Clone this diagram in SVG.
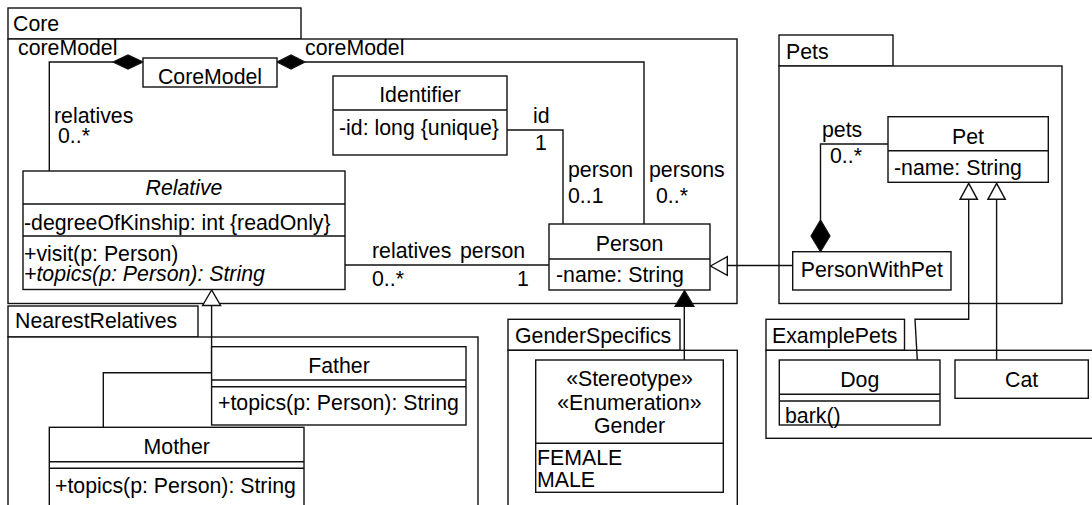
<svg xmlns="http://www.w3.org/2000/svg" width="1092" height="505" viewBox="0 0 1092 505">
  <style>
    .pkg { fill: #fff; stroke: #111; stroke-width: 1.4; }
    .box { fill: #fff; stroke: #111; stroke-width: 1.4; }
    .ln { fill: none; stroke: #111; stroke-width: 1.4; }
    .hollow { fill: #fff; stroke: #111; stroke-width: 1.4; }
    .solid { fill: #000; stroke: #111; stroke-width: 1.2; }
    text { font-family: "Liberation Sans", Arial, Helvetica, sans-serif; font-size: 21.3px; fill: #000; }
    .c { text-anchor: middle; }
    .i { font-style: italic; }
  </style>

  <rect width="1092" height="505" fill="#fff"/>

  <!-- packages -->
  <g id="pkg-core">
    <rect class="pkg" x="8" y="8" width="293" height="31"/>
    <rect class="pkg" x="8" y="39" width="729" height="264.5"/>
    <text x="13" y="31">Core</text>
  </g>
  <g id="pkg-pets">
    <rect class="pkg" x="779" y="35" width="114" height="31"/>
    <rect class="pkg" x="779" y="66" width="283" height="237.5"/>
    <text x="786" y="59">Pets</text>
  </g>
  <g id="pkg-nearest-relatives">
    <rect class="pkg" x="8" y="306" width="190" height="31"/>
    <rect class="pkg" x="8" y="337" width="470" height="200"/>
    <text x="15" y="328">NearestRelatives</text>
  </g>
  <g id="pkg-gender-specifics">
    <rect class="pkg" x="508" y="319.3" width="172" height="31"/>
    <rect class="pkg" x="508" y="350.3" width="229.3" height="200"/>
    <text x="515" y="343">GenderSpecifics</text>
  </g>
  <g id="pkg-example-pets">
    <rect class="pkg" x="766" y="319.3" width="138.5" height="31"/>
    <rect class="pkg" x="766" y="350.3" width="400" height="88"/>
    <text x="772" y="343">ExamplePets</text>
  </g>

  <!-- connectors -->
  <g id="connectors">
    <!-- CoreModel <>- Relative -->
    <path class="ln" d="M49.3,171 V62 H113"/>
    <polygon class="solid" points="113,62 128,55 143,62 128,69"/>
    <text x="18" y="55">coreModel</text>
    <text x="54" y="123">relatives</text>
    <text x="58" y="143">0..*</text>

    <!-- CoreModel <>- Person -->
    <path class="ln" d="M305,62 H644 V224"/>
    <polygon class="solid" points="277,62 291,55 305,62 291,69"/>
    <text x="305" y="55">coreModel</text>
    <text x="649" y="177">persons</text>
    <text x="656" y="203">0..*</text>

    <!-- Identifier - Person -->
    <path class="ln" d="M507,130 H563 V224"/>
    <text x="533" y="123">id</text>
    <text x="535" y="150">1</text>
    <text x="568" y="177">person</text>
    <text x="568" y="203">0..1</text>

    <!-- Relative - Person -->
    <path class="ln" d="M345,265 H549"/>
    <text x="372" y="258">relatives</text>
    <text x="460" y="258">person</text>
    <text x="372" y="286">0..*</text>
    <text x="517" y="286">1</text>

    <!-- Father, Mother generalize Relative -->
    <path class="ln" d="M211.6,305.5 V372.7 H103.3 V427.3"/>
    <polygon class="hollow" points="211.6,290 202.6,305.5 220.6,305.5"/>

    <!-- Gender to Person -->
    <path class="ln" d="M684.3,360 V306"/>
    <polygon class="solid" points="684.5,290.5 675,306.5 694,306.5"/>

    <!-- PersonWithPet generalizes Person -->
    <path class="ln" d="M727.3,265.5 H792.7"/>
    <polygon class="hollow" points="710.5,266 727.3,256.7 727.3,275.3"/>

    <!-- PersonWithPet <>- Pet -->
    <path class="ln" d="M888,144 H820.5 V220"/>
    <polygon class="solid" points="820.5,220 811,236 820.5,251.7 830,236"/>
    <text x="822" y="137">pets</text>
    <text x="830" y="163">0..*</text>

    <!-- Dog, Cat generalize Pet -->
    <path class="ln" d="M968.7,199.3 V319.3 H915 L917.3,360"/>
    <polygon class="hollow" points="968.7,183.3 960,199.3 977.4,199.3"/>
    <path class="ln" d="M996.6,199.3 V360"/>
    <polygon class="hollow" points="996.6,183.3 987.9,199.3 1005.3,199.3"/>
  </g>

  <!-- classes -->
  <g id="core-model">
    <rect class="box" x="143" y="58" width="134" height="29"/>
    <text class="c" x="210" y="84">CoreModel</text>
  </g>
  <g id="identifier">
    <rect class="box" x="333" y="76" width="174" height="79"/>
    <path class="ln" d="M333,110 H507"/>
    <text class="c" x="420" y="102">Identifier</text>
    <text x="339" y="135">-id: long {unique}</text>
  </g>
  <g id="relative">
    <rect class="box" x="23" y="171" width="322" height="118.5"/>
    <path class="ln" d="M23,204 H345 M23,236 H345"/>
    <text class="c i" x="184" y="195">Relative</text>
    <text x="24" y="230">-degreeOfKinship: int {readOnly}</text>
    <text x="24" y="261">+visit(p: Person)</text>
    <text class="i" x="24" y="281">+topics(p: Person): String</text>
  </g>
  <g id="person">
    <rect class="box" x="549" y="224" width="161" height="66"/>
    <path class="ln" d="M549,259 H710"/>
    <text class="c" x="629.5" y="251">Person</text>
    <text x="556" y="282">-name: String</text>
  </g>
  <g id="pet">
    <rect class="box" x="888" y="116.7" width="160.3" height="65.6"/>
    <path class="ln" d="M888,150.7 H1048.3"/>
    <text class="c" x="968" y="143.5">Pet</text>
    <text x="894" y="175">-name: String</text>
  </g>
  <g id="person-with-pet">
    <rect class="box" x="792.7" y="251.7" width="158.3" height="38.3"/>
    <text class="c" x="871.8" y="277">PersonWithPet</text>
  </g>
  <g id="father">
    <rect class="box" x="211.6" y="346.7" width="254.4" height="78.3"/>
    <path class="ln" d="M211.6,380 H466 M211.6,386.7 H466"/>
    <text class="c" x="339" y="373">Father</text>
    <text x="218" y="410">+topics(p: Person): String</text>
  </g>
  <g id="mother">
    <rect class="box" x="49.3" y="427.3" width="254.7" height="100"/>
    <path class="ln" d="M49.3,461.7 H304 M49.3,468.3 H304"/>
    <text class="c" x="176.7" y="453.5">Mother</text>
    <text x="55" y="493">+topics(p: Person): String</text>
  </g>
  <g id="gender">
    <rect class="box" x="535.7" y="360" width="187.6" height="132.3"/>
    <path class="ln" d="M535.7,443.3 H723.3"/>
    <text class="c" x="629.5" y="385.5">«Stereotype»</text>
    <text class="c" x="629.5" y="410">«Enumeration»</text>
    <text class="c" x="629.5" y="433">Gender</text>
    <text x="537" y="465">FEMALE</text>
    <text x="537" y="486.5">MALE</text>
  </g>
  <g id="dog">
    <rect class="box" x="779.3" y="360" width="160.7" height="65"/>
    <path class="ln" d="M779.3,394.3 H940 M779.3,401 H940"/>
    <text class="c" x="859.7" y="387">Dog</text>
    <text x="785" y="423">bark()</text>
  </g>
  <g id="cat">
    <rect class="box" x="955" y="360" width="133.3" height="38.3"/>
    <text class="c" x="1021.7" y="387">Cat</text>
  </g>
</svg>
